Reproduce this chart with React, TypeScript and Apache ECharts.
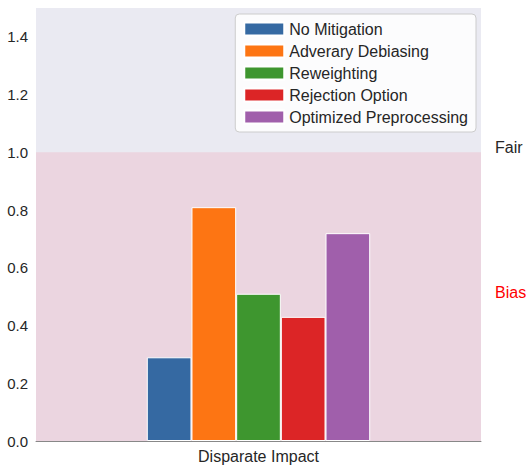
import { useEffect, useRef } from 'react'
import * as echarts from 'echarts'

const categories = ['Disparate Impact']
const seriesNames = ['No Mitigation', 'Adverary Debiasing', 'Reweighting', 'Rejection Option', 'Optimized Preprocessing']
const seriesValues = [0.29, 0.81, 0.51, 0.43, 0.72]
const colors = ['#3569a2', '#fd7513', '#3e962f', '#dc2526', '#a05fab']
const yTicks = [0, 1.5, 0.2]

export default function App() {
  const ref = useRef<HTMLDivElement>(null)

  useEffect(() => {
    if (!ref.current) return
    const chart = echarts.init(ref.current, null, { renderer: 'svg' })
    const font = 'Liberation Sans, Arial, sans-serif'
    chart.setOption({
      animation: false,
      textStyle: { fontFamily: font },
      grid: { left: 36, right: 50, top: 8, bottom: 29, backgroundColor: '#eaeaf2', show: true, borderWidth: 0 },
      legend: {
        data: seriesNames,
        orient: 'vertical',
        right: 55,
        top: 14,
        itemWidth: 40,
        itemHeight: 13,
        itemGap: 6,
        padding: [7, 8],
        backgroundColor: 'rgba(255,255,255,0.85)',
        borderColor: '#cccccc',
        borderWidth: 1,
        borderRadius: 4,
        textStyle: { fontSize: 16, color: '#262626', fontFamily: font },
        icon: 'rect',
      },
      xAxis: {
        type: 'category',
        data: categories,
        axisTick: { show: false },
        axisLine: { lineStyle: { color: '#888' } },
        axisLabel: { fontSize: 16, color: '#262626', margin: 7 },
      },
      yAxis: {
        type: 'value',
        min: yTicks[0],
        max: yTicks[1],
        interval: yTicks[2],
        splitLine: { show: false },
        axisLine: { show: false },
        axisLabel: { fontSize: 15, color: '#262626', formatter: (v: number) => v.toFixed(1), showMaxLabel: false },
      },
      series: seriesNames.map((name, i) => ({
        name,
        type: 'bar',
        data: [seriesValues[i]],
        barGap: '0%',
        barCategoryGap: '49.8%',
        itemStyle: { color: colors[i], borderColor: '#ffffff', borderWidth: 1 },
        ...(i === 0
          ? {
              markArea: {
                silent: true,
                itemStyle: { color: 'rgba(240,150,170,0.25)' },
                data: [[{ yAxis: 0 }, { yAxis: 1 }]],
              },
            }
          : {}),
      })),
      graphic: [
        { type: 'text', left: 495, top: 139, style: { text: 'Fair', fontSize: 16, fill: '#262626', fontFamily: font } },
        { type: 'text', left: 495, top: 284, style: { text: 'Bias', fontSize: 16, fill: '#ff0000', fontFamily: font } },
      ],
    })
    return () => chart.dispose()
  }, [])

  return <div ref={ref} style={{ position: 'fixed', left: 0, top: 0, width: 531, height: 470, background: '#fff' }} />
}
